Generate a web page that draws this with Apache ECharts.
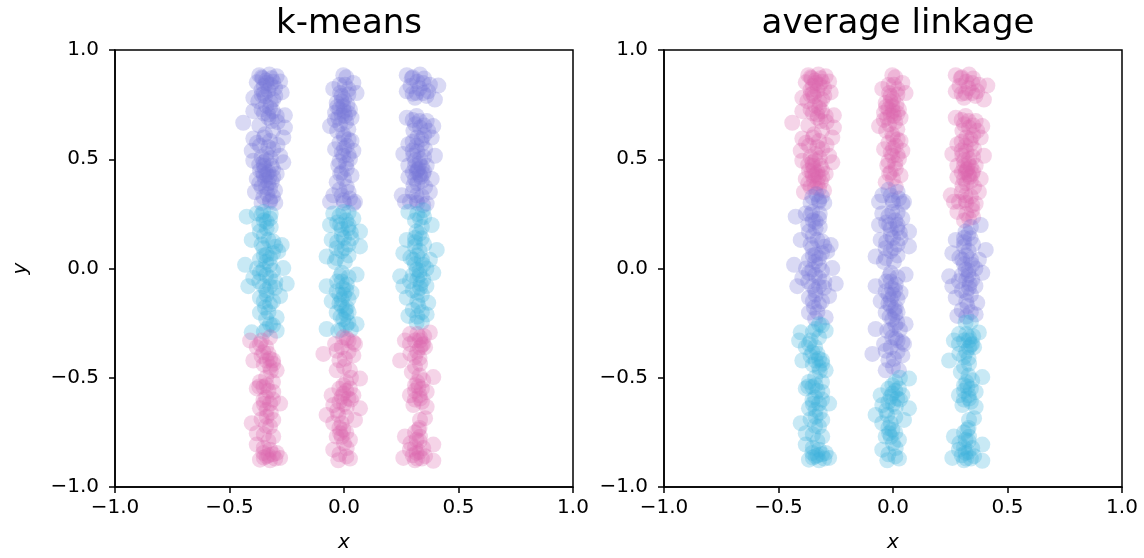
<!DOCTYPE html>
<html>
<head>
<meta charset="utf-8">
<script src="https://cdn.jsdelivr.net/npm/echarts@6/dist/echarts.min.js"></script>
<style>
html,body{margin:0;padding:0;background:#fff;}
#chart{width:1144px;height:558px;}
</style>
</head>
<body>
<div id="chart"></div>
<script>
// Point columns (x, y) — same points in both panels
const leftColumn = [
[-0.370,0.885],[-0.326,0.888],[-0.294,0.880],[-0.355,0.871],[-0.316,0.871],[-0.279,0.856],[-0.381,0.852],[-0.338,0.849],[-0.340,0.860],[-0.320,0.840],[-0.301,0.826],[-0.360,0.819],[-0.272,0.806],[-0.350,0.800],[-0.396,0.781],[-0.345,0.788],[-0.374,0.766],[-0.309,0.773],[-0.323,0.735],[-0.360,0.728],[-0.396,0.720],[-0.294,0.698],[-0.330,0.705],[-0.258,0.701],[-0.316,0.675],[-0.440,0.667],[-0.258,0.645],[-0.265,0.599],[-0.345,0.614],[-0.396,0.595],[-0.323,0.584],[-0.367,0.562],[-0.309,0.546],[-0.403,0.539],[-0.338,0.524],[-0.279,0.516],[-0.396,0.493],[-0.352,0.486],[-0.316,0.471],[-0.265,0.486],[-0.350,0.470],[-0.345,0.455],[-0.367,0.448],[-0.330,0.441],[-0.338,0.430],[-0.294,0.433],[-0.381,0.410],[-0.345,0.403],[-0.309,0.418],[-0.330,0.390],[-0.360,0.373],[-0.323,0.365],[-0.389,0.350],[-0.301,0.357],[-0.352,0.327],[-0.323,0.312],[-0.323,0.305],[-0.300,0.300],
[-0.360,0.875],[-0.310,0.855],[-0.350,0.835],[-0.330,0.815],[-0.300,0.790],[-0.360,0.795],[-0.320,0.760],[-0.340,0.745],[-0.310,0.720],[-0.350,0.710],[-0.330,0.690],[-0.290,0.670],[-0.370,0.655],[-0.310,0.630],[-0.350,0.600],[-0.290,0.565],[-0.380,0.575],[-0.330,0.555],[-0.360,0.510],[-0.320,0.505],[-0.340,0.495],[-0.370,0.475],[-0.310,0.455],[-0.355,0.440],[-0.325,0.420],[-0.350,0.425],[-0.370,0.390],[-0.315,0.395],[-0.340,0.370],[-0.335,0.340],[-0.310,0.330],[-0.360,0.300],
[-0.425,0.237],[-0.381,0.252],[-0.352,0.259],[-0.323,0.229],[-0.338,0.214],[-0.338,0.184],[-0.367,0.169],[-0.403,0.131],[-0.309,0.123],[-0.272,0.108],[-0.352,0.093],[-0.287,0.078],[-0.338,0.063],[-0.323,0.048],[-0.367,0.040],[-0.432,0.017],[-0.323,0.017],[-0.265,0.002],[-0.352,-0.005],[-0.367,-0.020],[-0.396,-0.043],[-0.323,-0.043],[-0.418,-0.081],[-0.250,-0.070],[-0.352,-0.081],[-0.323,-0.081],[-0.301,-0.088],[-0.338,-0.119],[-0.367,-0.134],[-0.279,-0.126],[-0.323,-0.164],[-0.345,-0.179],[-0.367,-0.202],[-0.294,-0.224],[-0.323,-0.255],[-0.403,-0.292],[-0.338,-0.277],[-0.294,-0.285],
[-0.360,0.245],[-0.320,0.250],[-0.350,0.220],[-0.370,0.200],[-0.320,0.190],[-0.350,0.150],[-0.330,0.130],[-0.300,0.100],[-0.360,0.110],[-0.310,0.070],[-0.350,0.060],[-0.340,0.030],[-0.380,0.000],[-0.310,-0.010],[-0.340,-0.030],[-0.370,-0.060],[-0.300,-0.060],[-0.340,-0.100],[-0.310,-0.150],[-0.350,-0.150],[-0.330,-0.200],[-0.340,-0.230],[-0.310,-0.260],[-0.350,-0.290],
[-0.410,-0.330],[-0.367,-0.345],[-0.323,-0.315],[-0.381,-0.360],[-0.352,-0.383],[-0.323,-0.413],[-0.338,-0.421],[-0.396,-0.421],[-0.309,-0.436],[-0.323,-0.451],[-0.294,-0.466],[-0.367,-0.519],[-0.338,-0.534],[-0.352,-0.542],[-0.381,-0.549],[-0.309,-0.565],[-0.352,-0.602],[-0.323,-0.618],[-0.279,-0.618],[-0.367,-0.640],[-0.338,-0.648],[-0.338,-0.678],[-0.309,-0.693],[-0.403,-0.708],[-0.323,-0.723],[-0.381,-0.754],[-0.309,-0.769],[-0.381,-0.806],[-0.323,-0.829],[-0.352,-0.844],[-0.294,-0.844],[-0.338,-0.860],[-0.279,-0.867],[-0.367,-0.875],[-0.323,-0.878],
[-0.360,-0.330],[-0.340,-0.360],[-0.330,-0.390],[-0.360,-0.400],[-0.310,-0.420],[-0.350,-0.440],[-0.320,-0.470],[-0.340,-0.500],[-0.310,-0.520],[-0.370,-0.540],[-0.330,-0.560],[-0.340,-0.590],[-0.310,-0.600],[-0.350,-0.620],[-0.320,-0.660],[-0.360,-0.690],[-0.340,-0.720],[-0.350,-0.760],[-0.330,-0.790],[-0.350,-0.820],[-0.310,-0.850],[-0.350,-0.865],[-0.300,-0.870],[-0.330,-0.855]
];
const middleColumn = [
[-0.003,0.885],[-0.047,0.822],[0.004,0.841],[0.041,0.849],[0.055,0.803],[-0.017,0.803],[0.019,0.796],[-0.010,0.765],[-0.032,0.758],[0.015,0.750],[-0.003,0.743],[-0.020,0.730],[0.026,0.728],[0.000,0.720],[-0.039,0.713],[0.004,0.698],[-0.025,0.690],[0.033,0.690],[-0.017,0.660],[-0.061,0.652],[0.019,0.637],[-0.003,0.614],[0.033,0.584],[0.012,0.562],[-0.039,0.546],[0.041,0.539],[-0.003,0.516],[0.026,0.501],[-0.025,0.471],[0.012,0.456],[-0.017,0.433],[0.033,0.426],[-0.032,0.395],[0.012,0.373],[-0.047,0.335],[-0.010,0.335],[0.026,0.320],[0.048,0.305],[-0.061,0.305],[-0.003,0.312],[0.041,0.297],
[0.010,0.875],[-0.020,0.840],[0.020,0.820],[-0.010,0.790],[0.000,0.775],[-0.030,0.740],[0.020,0.710],[-0.010,0.700],[-0.040,0.680],[0.010,0.670],[-0.030,0.630],[0.000,0.600],[0.020,0.590],[-0.020,0.575],[0.000,0.550],[-0.010,0.530],[0.020,0.520],[-0.020,0.490],[0.010,0.480],[-0.010,0.440],[0.000,0.410],[-0.020,0.360],[0.020,0.350],[0.000,0.300],
[-0.047,0.252],[-0.003,0.259],[0.041,0.229],[-0.061,0.199],[-0.017,0.199],[0.019,0.184],[0.070,0.169],[-0.010,0.153],[0.033,0.138],[-0.054,0.131],[0.070,0.101],[-0.032,0.093],[0.004,0.093],[-0.076,0.055],[-0.032,0.048],[0.004,0.032],[0.055,-0.028],[-0.017,-0.036],[-0.010,-0.060],[0.012,-0.073],[-0.076,-0.081],[-0.005,-0.090],[-0.032,-0.104],[0.033,-0.111],[0.000,-0.120],[-0.010,-0.141],[-0.054,-0.149],[-0.020,-0.160],[0.012,-0.179],[0.005,-0.190],[-0.032,-0.202],[0.010,-0.210],[-0.003,-0.232],[0.019,-0.247],[0.055,-0.255],[-0.076,-0.277],[-0.025,-0.285],
[0.020,0.255],[-0.020,0.240],[0.010,0.220],[-0.030,0.210],[0.020,0.200],[-0.010,0.180],[0.030,0.165],[0.000,0.140],[-0.030,0.120],[0.020,0.110],[-0.010,0.080],[0.020,0.060],[-0.040,0.030],[-0.010,-0.020],[0.020,-0.040],[-0.030,-0.060],[0.010,-0.100],[-0.020,-0.120],[0.020,-0.140],[-0.010,-0.170],[0.020,-0.200],[-0.015,-0.220],[0.010,-0.260],[-0.010,-0.280],[0.030,-0.280],
[-0.003,-0.315],[0.012,-0.320],[0.041,-0.338],[-0.039,-0.345],[0.048,-0.345],[-0.032,-0.376],[-0.090,-0.391],[0.041,-0.398],[0.004,-0.413],[-0.032,-0.466],[0.026,-0.466],[0.070,-0.504],[-0.003,-0.534],[0.026,-0.549],[-0.003,-0.572],[-0.054,-0.580],[0.041,-0.580],[-0.010,-0.587],[0.019,-0.595],[-0.047,-0.625],[0.012,-0.633],[0.070,-0.640],[-0.076,-0.670],[-0.025,-0.670],[0.048,-0.693],[-0.047,-0.708],[-0.010,-0.708],[-0.003,-0.738],[-0.017,-0.754],[-0.032,-0.769],[0.026,-0.784],[0.012,-0.822],[-0.047,-0.829],[0.026,-0.870],[-0.025,-0.878],
[0.020,-0.330],[-0.010,-0.360],[0.020,-0.380],[-0.020,-0.420],[0.000,-0.450],[0.030,-0.500],[0.010,-0.520],[-0.020,-0.550],[0.010,-0.560],[0.030,-0.600],[-0.020,-0.610],[0.000,-0.620],[-0.030,-0.650],[0.010,-0.680],[-0.020,-0.730],[0.010,-0.750],[-0.010,-0.770],[0.000,-0.800],[-0.020,-0.850],[0.010,-0.860]
];
const rightColumn = [
[0.274,0.885],[0.332,0.888],[0.296,0.871],[0.346,0.849],[0.375,0.841],[0.412,0.837],[0.274,0.811],[0.368,0.811],[0.317,0.803],[0.346,0.803],[0.310,0.781],[0.397,0.773],
[0.300,0.875],[0.350,0.870],[0.320,0.855],[0.290,0.835],[0.330,0.825],[0.360,0.790],[0.300,0.800],
[0.317,0.698],[0.274,0.690],[0.361,0.675],[0.390,0.652],[0.332,0.645],[0.303,0.630],[0.368,0.630],[0.383,0.599],[0.339,0.592],[0.281,0.569],[0.317,0.562],[0.354,0.546],[0.259,0.524],[0.303,0.516],[0.397,0.516],[0.332,0.501],[0.310,0.470],[0.281,0.471],[0.361,0.471],[0.325,0.455],[0.317,0.441],[0.346,0.433],[0.335,0.420],[0.281,0.418],[0.383,0.410],[0.303,0.380],[0.354,0.373],[0.375,0.350],[0.252,0.335],[0.317,0.335],[0.288,0.305],[0.266,0.305],[0.317,0.312],[0.361,0.297],[0.346,0.290],
[0.300,0.680],[0.330,0.675],[0.350,0.655],[0.310,0.660],[0.350,0.610],[0.320,0.600],[0.300,0.580],[0.340,0.570],[0.320,0.535],[0.300,0.540],[0.350,0.510],[0.310,0.495],[0.330,0.480],[0.340,0.465],[0.320,0.450],[0.350,0.445],[0.300,0.440],[0.330,0.430],[0.310,0.410],[0.340,0.400],[0.320,0.390],[0.300,0.350],[0.340,0.330],[0.320,0.300],
[0.281,0.259],[0.346,0.267],[0.332,0.229],[0.383,0.199],[0.317,0.169],[0.339,0.138],[0.274,0.131],[0.310,0.120],[0.310,0.101],[0.405,0.085],[0.259,0.070],[0.320,0.060],[0.375,0.040],[0.303,0.040],[0.346,0.017],[0.317,-0.005],[0.330,-0.010],[0.390,-0.020],[0.245,-0.036],[0.346,-0.051],[0.288,-0.058],[0.335,-0.070],[0.259,-0.081],[0.332,-0.089],[0.320,-0.110],[0.274,-0.134],[0.368,-0.157],[0.325,-0.172],[0.361,-0.210],[0.281,-0.217],[0.317,-0.247],
[0.320,0.250],[0.350,0.235],[0.310,0.220],[0.340,0.190],[0.330,0.160],[0.310,0.140],[0.350,0.110],[0.330,0.080],[0.290,0.050],[0.340,0.040],[0.310,0.020],[0.360,0.000],[0.330,-0.030],[0.300,-0.030],[0.320,-0.050],[0.360,-0.080],[0.300,-0.100],[0.340,-0.120],[0.320,-0.150],[0.300,-0.190],[0.340,-0.200],[0.320,-0.220],[0.340,-0.245],
[0.375,-0.293],[0.288,-0.300],[0.332,-0.315],[0.266,-0.330],[0.332,-0.330],[0.346,-0.345],[0.288,-0.345],[0.354,-0.360],[0.332,-0.362],[0.310,-0.406],[0.245,-0.421],[0.332,-0.436],[0.296,-0.474],[0.390,-0.497],[0.346,-0.512],[0.310,-0.534],[0.325,-0.540],[0.361,-0.565],[0.288,-0.580],[0.332,-0.595],[0.303,-0.625],[0.361,-0.633],[0.354,-0.685],[0.332,-0.693],[0.325,-0.738],[0.266,-0.769],[0.332,-0.770],[0.317,-0.784],[0.390,-0.806],[0.346,-0.822],[0.288,-0.829],[0.317,-0.844],[0.354,-0.859],[0.259,-0.867],[0.310,-0.878],[0.390,-0.880],
[0.320,-0.300],[0.350,-0.310],[0.310,-0.330],[0.340,-0.350],[0.320,-0.380],[0.290,-0.390],[0.330,-0.410],[0.310,-0.450],[0.330,-0.490],[0.320,-0.520],[0.340,-0.550],[0.310,-0.560],[0.330,-0.580],[0.310,-0.600],[0.340,-0.610],[0.330,-0.730],[0.310,-0.750],[0.330,-0.790],[0.290,-0.800],[0.310,-0.820],[0.330,-0.840],[0.300,-0.855],[0.340,-0.870],[0.320,-0.870]
];

// Cluster boundaries (upper cut, lower cut in y) for each column
const kmeansCuts  = [[0.28, -0.31], [0.28, -0.30], [0.28, -0.27]];
const linkageCuts = [[0.34, -0.25], [0.37, -0.49], [0.215, -0.235]];

// Colours for top, middle, bottom cluster of each panel
const PURPLE = '#7676d6', CYAN = '#38afdb', PINK = '#da64ae';
const kmeansColors  = [PURPLE, CYAN, PINK];
const linkageColors = [PINK, PURPLE, CYAN];

const panelTitles = ['k-means', 'average linkage'];
const tickValues = [-1.0, -0.5, 0.0, 0.5, 1.0];

const columns = [leftColumn, middleColumn, rightColumn];
const FONT = 'DejaVu Sans';

function fmt(v) {
  const s = Math.abs(v).toFixed(1);
  return v < -1e-9 ? '\u2212' + s : s;
}

const grids = [
  { left: 115, right: 571, top: 50, bottom: 67 },
  { left: 664, right: 22, top: 50, bottom: 67 }
];

function makeAxis(idx, isX) {
  return {
    type: 'value', gridIndex: idx,
    min: tickValues[0], max: tickValues[tickValues.length - 1], interval: 0.5,
    name: isX ? 'x' : (idx === 0 ? 'y' : ''),
    nameLocation: 'middle',
    nameGap: isX ? 46 : 84,
    nameTextStyle: { fontFamily: FONT, fontSize: 20, fontStyle: 'italic', color: '#000' },
    axisLine: { show: true, onZero: false, lineStyle: { color: '#000', width: 1.5 } },
    axisTick: { show: true, inside: false, length: 6, lineStyle: { color: '#000', width: 1.5 } },
    axisLabel: { show: true, fontFamily: FONT, fontSize: 20, color: '#000', margin: isX ? 11 : 16, formatter: fmt },
    splitLine: { show: false }
  };
}

const series = [];
[[kmeansCuts, kmeansColors], [linkageCuts, linkageColors]].forEach(([cuts, colors], p) => {
  const groups = [[], [], []];
  columns.forEach((col, c) => {
    col.forEach(pt => {
      const k = pt[1] > cuts[c][0] ? 0 : (pt[1] > cuts[c][1] ? 1 : 2);
      groups[k].push(pt);
    });
  });
  groups.forEach((g, k) => {
    series.push({
      type: 'scatter', xAxisIndex: p, yAxisIndex: p, data: g,
      symbol: 'circle', symbolSize: 16, silent: true,
      itemStyle: { color: colors[k], opacity: 0.28 }
    });
  });
});

const chart = echarts.init(document.getElementById('chart'), null, { renderer: 'canvas' });
chart.setOption({
  animation: false,
  backgroundColor: '#fff',
  title: panelTitles.map((t, i) => ({
    text: t,
    left: i === 0 ? 344 : 893, top: 2, textAlign: 'center',
    textStyle: { fontFamily: FONT, fontSize: 34, fontWeight: 'normal', color: '#000' }
  })),
  grid: grids.map(g => Object.assign({ show: true, borderColor: '#000', borderWidth: 1.5, backgroundColor: 'transparent' }, g)),
  xAxis: [makeAxis(0, true), makeAxis(1, true)],
  yAxis: [makeAxis(0, false), makeAxis(1, false)],
  series: series
});
</script>
</body>
</html>
